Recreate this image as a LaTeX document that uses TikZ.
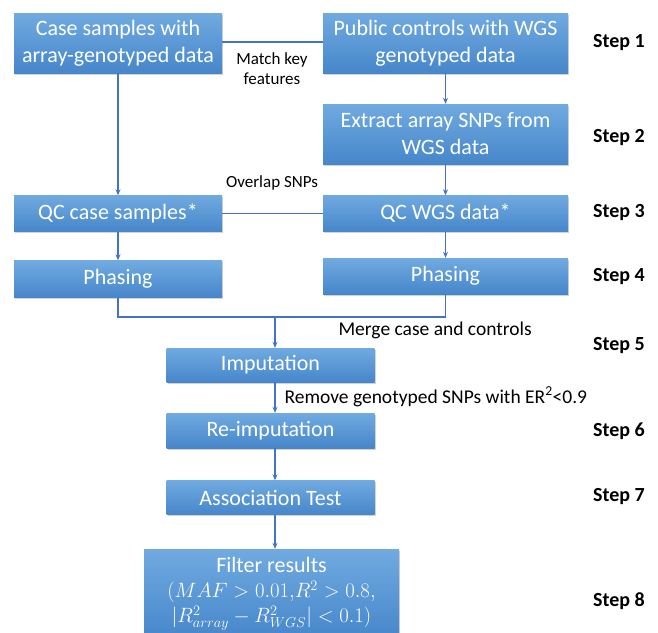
\documentclass[tikz,border=0pt]{standalone}
\usepackage{fontspec}
\setmainfont{Carlito}
\usetikzlibrary{shadows,arrows.meta}
\definecolor{boxtop}{RGB}{112,170,224}
\definecolor{boxbot}{RGB}{70,134,202}
\definecolor{conn}{RGB}{68,114,196}
\begin{document}
\begin{tikzpicture}[x=1pt,y=-1pt,
  box/.style={draw=none,top color=boxtop,bottom color=boxbot,text=white,align=center,
    inner sep=0pt,font=\fontsize{22}{27}\selectfont,
    drop shadow={shadow xshift=1pt,shadow yshift=-1.5pt,opacity=0.35}},
  steplbl/.style={font=\bfseries\fontsize{20}{24}\selectfont,text=black},
  lbl/.style={font=\fontsize{17}{20}\selectfont,text=black,align=center},
  biglbl/.style={font=\fontsize{19.5}{23}\selectfont,text=black,anchor=west},
  conline/.style={draw=conn,line width=1.2pt},
  arr/.style={conline,-{Stealth[length=6pt,width=5pt]}}]
\useasboundingbox (0,0) rectangle (658,632);
% boxes
\node[box,minimum width=208pt,minimum height=60pt] (case) at (118,43) {Case samples with\\array-genotyped data};
\node[box,minimum width=245pt,minimum height=60pt] (pub) at (445.5,43) {Public controls with WGS\\genotyped data};
\node[box,minimum width=245pt,minimum height=60pt] (ext) at (445.5,134) {Extract array SNPs from\\WGS data};
\node[box,minimum width=208pt,minimum height=36pt] (qcl) at (118,213.5) {QC case samples*};
\node[box,minimum width=245pt,minimum height=36pt] (qcr) at (445.5,213.5) {QC WGS data*};
\node[box,minimum width=208pt,minimum height=37pt] (phl) at (118,279) {Phasing};
\node[box,minimum width=245pt,minimum height=36pt] (phr) at (445.5,276) {Phasing};
\node[box,minimum width=208pt,minimum height=34pt] (imp) at (270.5,365) {Imputation};
\node[box,minimum width=208pt,minimum height=35pt] (reimp) at (270.5,430.5) {Re-imputation};
\node[box,minimum width=208pt,minimum height=34pt] (assoc) at (270.5,497.5) {Association Test};
\node[box,minimum width=255pt,minimum height=90pt,font=\fontsize{22}{25}\selectfont] (filt) at (271.5,594)
  {Filter results\\
   \fontsize{22}{25}\selectfont$(MAF>0.01{,}R^2>0.8,$\\
   \fontsize{22}{25}\selectfont$|R^2_{array}-R^2_{WGS}|<0.1)$};
% step labels
\node[steplbl] (s1) at (619,43) {Step 1};
\node[steplbl] (s2) at (619,138) {Step 2};
\node[steplbl] (s3) at (619,213) {Step 3};
\node[steplbl] (s4) at (619,277) {Step 4};
\node[steplbl] (s5) at (619,346) {Step 5};
\node[steplbl] (s6) at (619,431) {Step 6};
\node[steplbl] (s7) at (619,497) {Step 7};
\node[steplbl] (s8) at (619,601) {Step 8};
% connectors
\draw[conline] (case.east |- 0,42) -- (pub.west |- 0,42);
\node[lbl] (mkf) at (272,69) {Match key\\features};
\draw[arr] (case.south) -- (qcl.north);
\draw[arr] (pub.south) -- (ext.north);
\draw[arr] (ext.south) -- (qcr.north);
\draw[conline] (qcl.east) -- (qcr.west);
\node[lbl] (ovl) at (272,183) {Overlap SNPs};
\draw[arr] (qcl.south) -- (phl.north);
\draw[arr] (qcr.south) -- (phr.north);
\coordinate (m) at (275,317);
\draw[conline] (phl.south) -- (phl.south |- m) -- (phr.south |- m) -- (phr.south);
\draw[arr] (m) -- (m |- imp.north);
\node[biglbl] (mrg) at (335,330) {Merge case and controls};
\draw[arr] (imp.south -| m) -- (reimp.north -| m);
\node[biglbl] (rmv) at (281,397) {Remove genotyped SNPs with ER\textsuperscript{2}<0.9};
\draw[arr] (reimp.south -| m) -- (assoc.north -| m);
\draw[arr] (assoc.south -| m) -- (filt.north -| m);
\end{tikzpicture}
\end{document}
